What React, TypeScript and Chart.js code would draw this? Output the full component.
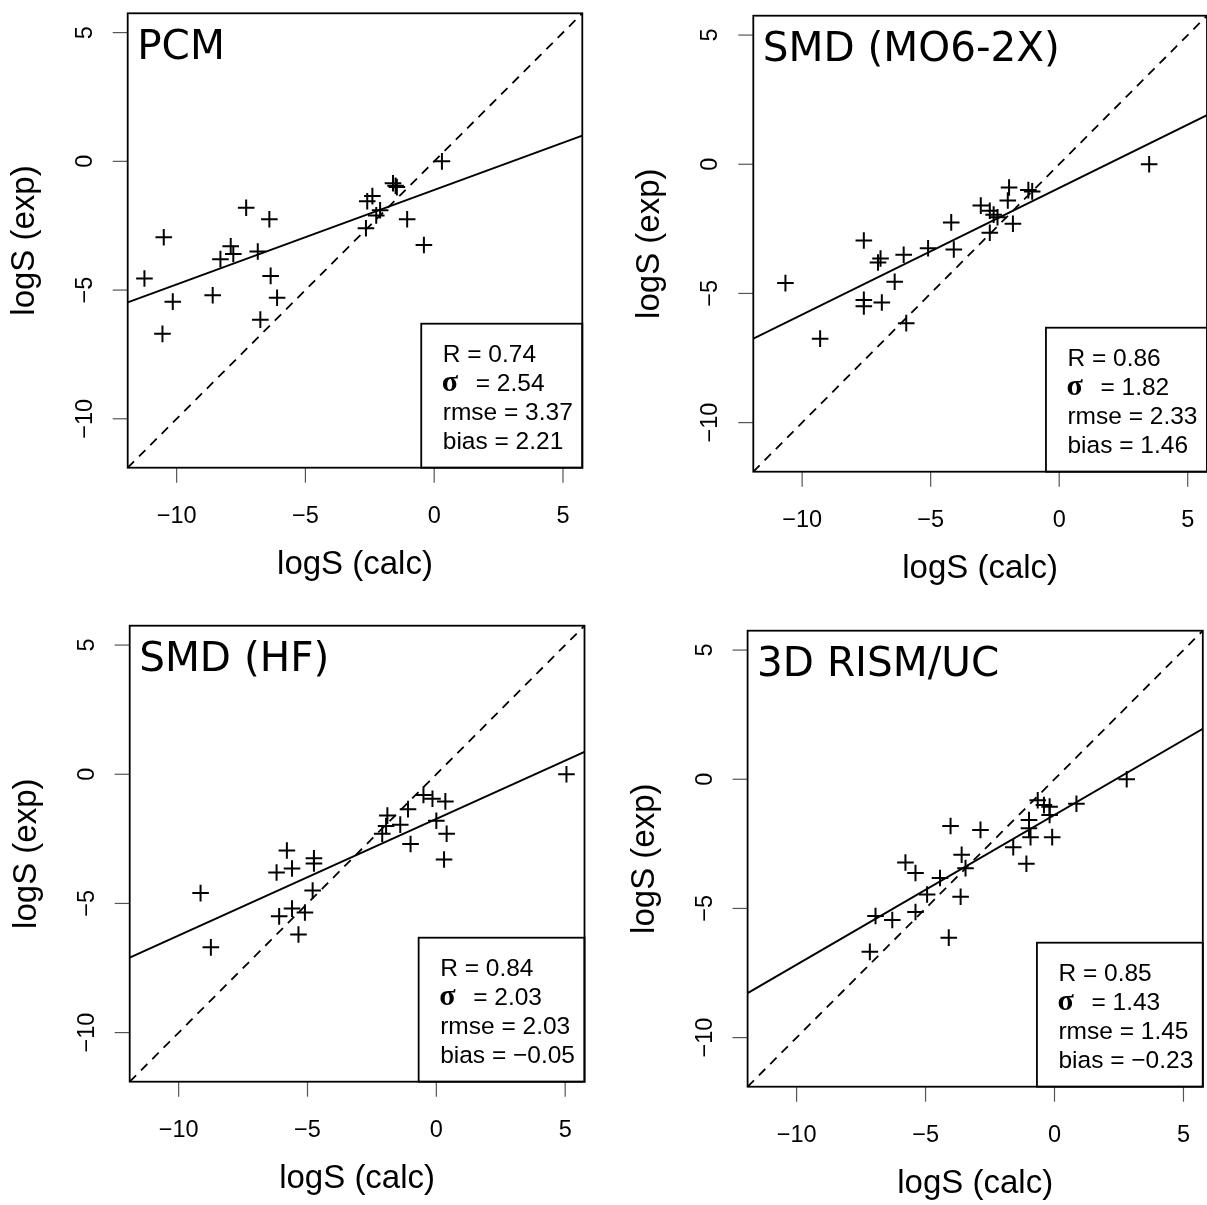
import React, { useEffect, useRef } from 'react';
import { Chart, registerables } from 'chart.js';

Chart.register(...registerables);

// ---- shared axis settings ----
const AXIS_MIN = -11.9;
const AXIS_MAX = 5.75;
const tickValues = [-10, -5, 0, 5];
const tickLabels = ['\u221210', '\u22125', '0', '5'];
const xAxisTitle = 'logS (calc)';
const yAxisTitle = 'logS (exp)';

// ---- panel 1: PCM ----
const pcmCalc = [0.3, -1.6, -1.5, -1.45, -2.6, -2.4, -2.1, -2.25, -1.05, -2.65, -0.4, -7.3, -6.4, -10.5, -7.9, -7.8, -8.3, -6.85, -11.25, -6.35, -8.6, -10.15, -6.1, -6.75, -10.55];
const pcmExp = [0, -0.85, -0.95, -1.0, -1.55, -1.35, -1.9, -2.1, -2.25, -2.6, -3.25, -1.8, -2.25, -2.95, -3.3, -3.6, -3.8, -3.5, -4.55, -4.45, -5.2, -5.45, -5.3, -6.15, -6.7];
const pcmFit = { slope: 0.367, intercept: -1.11 };
const pcmStats = ['0.74', '2.54', '3.37', '2.21'];

// ---- panel 2: SMD (MO6-2X) ----
const m06Calc = [3.5, -1.95, -1.2, -1.05, -2.0, -3.05, -2.7, -2.55, -2.4, -1.8, -4.2, -2.7, -7.6, -5.1, -4.1, -6.05, -6.95, -7.05, -6.4, -10.65, -7.6, -7.6, -6.9, -5.95, -9.3];
const m06Exp = [0, -0.9, -1.0, -1.05, -1.4, -1.6, -1.8, -1.95, -2.05, -2.3, -2.25, -2.65, -2.95, -3.25, -3.3, -3.5, -3.65, -3.8, -4.55, -4.6, -5.25, -5.5, -5.35, -6.15, -6.75];
const m06Fit = { slope: 0.49, intercept: -0.92 };
const m06Stats = ['0.86', '1.82', '2.33', '1.46'];

// ---- panel 3: SMD (HF) ----
const hfCalc = [5.05, -0.5, -0.15, 0.35, -1.1, -1.9, -1.4, -1.95, -2.1, 0.0, 0.4, -1.0, 0.3, -5.8, -4.75, -4.75, -5.6, -6.2, -4.8, -9.15, -5.6, -5.1, -6.1, -5.35, -8.75];
const hfExp = [0, -0.8, -0.95, -1.05, -1.35, -1.6, -1.95, -2.0, -2.3, -1.8, -2.3, -2.7, -3.3, -2.95, -3.25, -3.45, -3.65, -3.8, -4.5, -4.6, -5.2, -5.35, -5.5, -6.2, -6.7];
const hfFit = { slope: 0.451, intercept: -1.73 };
const hfStats = ['0.84', '2.03', '2.03', '\u22120.05'];

// ---- panel 4: 3D RISM/UC ----
const rismCalc = [2.8, 0.85, -0.65, -0.41, -0.19, -0.19, -0.99, -0.99, -0.93, -0.09, -1.6, -1.09, -4.03, -2.87, -3.6, -5.78, -5.39, -3.45, -4.44, -4.94, -3.64, -6.94, -6.29, -5.39, -4.1, -7.16];
const rismExp = [0, -0.95, -0.81, -1.0, -1.06, -1.38, -1.58, -1.9, -2.24, -2.24, -2.63, -3.27, -1.81, -1.96, -2.92, -3.22, -3.63, -3.44, -3.82, -4.46, -4.55, -5.29, -5.45, -5.14, -6.13, -6.68];
const rismFit = { slope: 0.58, intercept: -1.38 };
const rismStats = ['0.85', '1.43', '1.45', '\u22120.23'];

type Rect = { x: number; y: number; w: number; h: number };
type Area = { l: number; t: number; r: number; b: number };
type PanelDef = {
  title: string;
  calc: number[];
  exp: number[];
  fit: { slope: number; intercept: number };
  stats: string[];
  box: Rect;
  area: Area;
};

const panels: PanelDef[] = [
  { title: 'PCM', calc: pcmCalc, exp: pcmExp, fit: pcmFit, stats: pcmStats,
    box: { x: 0, y: 0, w: 603, h: 603 }, area: { l: 127.7, t: 13.3, r: 582.3, b: 467.7 } },
  { title: 'SMD (MO6-2X)', calc: m06Calc, exp: m06Exp, fit: m06Fit, stats: m06Stats,
    box: { x: 603, y: 0, w: 604, h: 603 }, area: { l: 753.3, t: 15.7, r: 1207.3, b: 471.7 } },
  { title: 'SMD (HF)', calc: hfCalc, exp: hfExp, fit: hfFit, stats: hfStats,
    box: { x: 0, y: 603, w: 603, h: 602 }, area: { l: 129.7, t: 625.7, r: 584.5, b: 1081.7 } },
  { title: '3D RISM/UC', calc: rismCalc, exp: rismExp, fit: rismFit, stats: rismStats,
    box: { x: 603, y: 603, w: 604, h: 602 }, area: { l: 747.6, t: 630.7, r: 1202.8, b: 1086.7 } },
];

const SANS = '"Liberation Sans", Arial, sans-serif';

function PanelChart({ panel }: { panel: PanelDef }) {
  const ref = useRef<HTMLCanvasElement>(null);
  const { box } = panel;

  useEffect(() => {
    const canvas = ref.current;
    if (!canvas) return;
    const { area } = panel;
    const padding = {
      left: area.l - box.x,
      top: area.t - box.y,
      right: box.x + box.w - area.r,
      bottom: box.y + box.h - area.b,
    };

    const overlay = {
      id: 'overlay',
      afterDatasetsDraw(chart: any) {
        const ctx: CanvasRenderingContext2D = chart.ctx;
        const xs = chart.scales.x;
        const ys = chart.scales.y;
        const ca = chart.chartArea;
        ctx.save();

        // ticks
        ctx.strokeStyle = '#555';
        ctx.lineWidth = 1.2;
        tickValues.forEach((v) => {
          const px = xs.getPixelForValue(v);
          ctx.beginPath();
          ctx.moveTo(px, ca.bottom);
          ctx.lineTo(px, ca.bottom + 15);
          ctx.stroke();
          const py = ys.getPixelForValue(v);
          ctx.beginPath();
          ctx.moveTo(ca.left, py);
          ctx.lineTo(ca.left - 15, py);
          ctx.stroke();
        });

        // tick labels
        ctx.fillStyle = '#000';
        ctx.font = '23.5px ' + SANS;
        ctx.textAlign = 'center';
        ctx.textBaseline = 'alphabetic';
        tickValues.forEach((v, i) => {
          ctx.fillText(tickLabels[i], xs.getPixelForValue(v), ca.bottom + 55);
          ctx.save();
          ctx.translate(ca.left - 36, ys.getPixelForValue(v));
          ctx.rotate(-Math.PI / 2);
          ctx.fillText(tickLabels[i], 0, 0);
          ctx.restore();
        });

        // axis titles
        ctx.font = '33px ' + SANS;
        ctx.fillText(xAxisTitle, (ca.left + ca.right) / 2, ca.bottom + 106);
        ctx.save();
        ctx.translate(ca.left - 94, (ca.top + ca.bottom) / 2);
        ctx.rotate(-Math.PI / 2);
        ctx.fillText(yAxisTitle, 0, 0);
        ctx.restore();

        // panel title
        ctx.font = '40.5px "DejaVu Sans", sans-serif';
        ctx.textAlign = 'left';
        ctx.fillText(panel.title, ca.left + 9.5, ca.top + 45.5);

        // stats box
        const statFont = '24.5px ' + SANS;
        ctx.font = statFont;
        const lines = [
          'R = ' + panel.stats[0],
          '= ' + panel.stats[1],
          'rmse = ' + panel.stats[2],
          'bias = ' + panel.stats[3],
        ];
        const widths = lines.map((s, i) => ctx.measureText(s).width + (i === 1 ? 33 : 0));
        const maxW = Math.max(...widths);
        const bw = maxW + 31;
        const bh = 144;
        const bx = ca.right - bw;
        const by = ca.bottom - bh;
        ctx.fillStyle = '#fff';
        ctx.fillRect(bx, by, bw, bh);
        ctx.strokeStyle = '#000';
        ctx.lineWidth = 1.8;
        ctx.strokeRect(bx, by, bw, bh);
        ctx.fillStyle = '#000';
        const tx = bx + 21.5;
        lines.forEach((s, i) => {
          const yb = by + 38.5 + i * 29;
          if (i === 1) {
            ctx.font = 'bold 30px "Liberation Serif", serif';
            ctx.fillText('\u03c3', tx - 1, yb);
            ctx.font = statFont;
            ctx.fillText(s, tx + 33, yb);
          } else {
            ctx.fillText(s, tx, yb);
          }
        });

        // frame
        ctx.strokeStyle = '#000';
        ctx.lineWidth = 1.8;
        ctx.strokeRect(ca.left, ca.top, ca.right - ca.left, ca.bottom - ca.top);
        ctx.restore();
      },
    };

    const points = panel.calc.map((x, i) => ({ x, y: panel.exp[i] }));
    const identity = [
      { x: AXIS_MIN, y: AXIS_MIN },
      { x: AXIS_MAX, y: AXIS_MAX },
    ];
    const fitLine = [
      { x: AXIS_MIN, y: panel.fit.intercept + panel.fit.slope * AXIS_MIN },
      { x: AXIS_MAX, y: panel.fit.intercept + panel.fit.slope * AXIS_MAX },
    ];

    const chart = new Chart(canvas, {
      type: 'scatter',
      data: {
        datasets: [
          {
            data: identity,
            showLine: true,
            borderColor: '#000',
            borderWidth: 1.8,
            borderDash: [9, 7],
            pointRadius: 0,
            fill: false,
          } as any,
          {
            data: fitLine,
            showLine: true,
            borderColor: '#000',
            borderWidth: 2,
            pointRadius: 0,
            fill: false,
          } as any,
          {
            data: points,
            pointStyle: 'cross',
            pointRadius: 8.3,
            pointHoverRadius: 8.3,
            borderColor: '#000',
            backgroundColor: '#000',
            pointBorderWidth: 2,
            borderWidth: 2,
          } as any,
        ],
      },
      options: {
        animation: false,
        responsive: false,
        devicePixelRatio: 1,
        events: [],
        layout: { padding, autoPadding: false },
        plugins: {
          legend: { display: false },
          tooltip: { enabled: false },
          title: { display: false },
        },
        scales: {
          x: { type: 'linear', min: AXIS_MIN, max: AXIS_MAX, display: false },
          y: { type: 'linear', min: AXIS_MIN, max: AXIS_MAX, display: false },
        },
      },
      plugins: [overlay],
    } as any);

    return () => chart.destroy();
  }, [panel]);

  return (
    <canvas
      ref={ref}
      width={box.w}
      height={box.h}
      style={{ position: 'absolute', left: box.x, top: box.y, width: box.w, height: box.h }}
    />
  );
}

export default function App() {
  return (
    <div
      style={{
        position: 'absolute',
        left: 0,
        top: 0,
        width: 1207,
        height: 1205,
        overflow: 'hidden',
        background: '#fff',
      }}
    >
      {panels.map((p) => (
        <PanelChart key={p.title} panel={p} />
      ))}
    </div>
  );
}
